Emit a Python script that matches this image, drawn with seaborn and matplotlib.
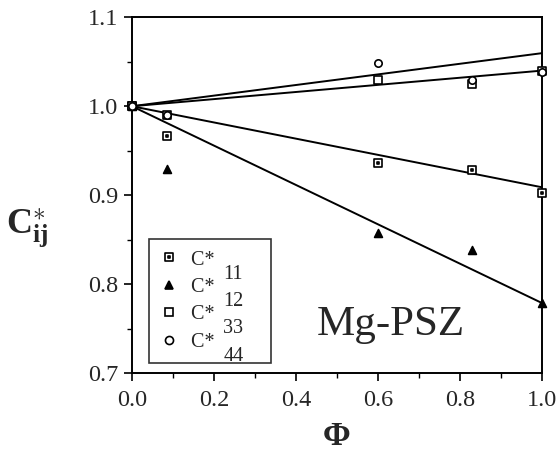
import numpy as np
import pandas as pd
import matplotlib
matplotlib.use("Agg")
import matplotlib.pyplot as plt
from matplotlib.path import Path
from matplotlib.lines import Line2D
from matplotlib import font_manager
import seaborn as sns

# ---- data ----
phi = [0.0, 0.085, 0.60, 0.830, 1.0]
c11 = [1.0, 0.967, 0.936, 0.928, 0.902]
c12 = [1.0, 0.930, 0.857, 0.838, 0.779]
c33 = [1.0, 0.990, 1.029, 1.025, 1.040]
c44 = [1.0, 0.990, 1.049, 1.030, 1.038]
series = ["11", "12", "33", "44"]
fit_phi = [0.0, 1.0]
fit_c11 = [1.0, 0.909]
fit_c12 = [1.0, 0.779]
fit_c33 = [1.0, 1.040]
fit_c44 = [1.0, 1.0596]

sns.set_theme(style="ticks")
names = sorted({f.name for f in font_manager.fontManager.ttflist})
serif = [n for n in ["Liberation Serif", "Times New Roman", "DejaVu Serif"] if n in names]
plt.rcParams['font.family'] = 'serif'
plt.rcParams['font.serif'] = serif
plt.rcParams['mathtext.fontset'] = 'custom'
plt.rcParams['mathtext.rm'] = serif[0]
plt.rcParams['mathtext.it'] = serif[0] + ':italic'
plt.rcParams['mathtext.bf'] = serif[0] + ':bold'

fig = plt.figure(figsize=(5.59, 4.54), dpi=100)
ax = fig.add_axes([0.236, 0.178, 0.733, 0.784])

# fit lines
for fy in [fit_c11, fit_c12, fit_c33, fit_c44]:
    fd = pd.DataFrame({"phi": fit_phi, "c": fy})
    sns.lineplot(data=fd, x="phi", y="c", ax=ax, color="black", lw=1.4)

# dotted square marker
boxdot = Path(
    [(-1, -1), (1, -1), (1, 1), (-1, 1), (-1, -1),
     (-0.25, -0.25), (0.25, -0.25), (0.25, 0.25), (-0.25, 0.25), (-0.25, -0.25)],
    [Path.MOVETO, Path.LINETO, Path.LINETO, Path.LINETO, Path.CLOSEPOLY,
     Path.MOVETO, Path.LINETO, Path.LINETO, Path.LINETO, Path.CLOSEPOLY])

styles = {
    "11": dict(marker=boxdot, s=38, facecolor="white"),
    "12": dict(marker="^", s=32, facecolor="black"),
    "33": dict(marker="s", s=32, facecolor="white"),
    "44": dict(marker="o", s=28, facecolor="white"),
}
vals = {"11": c11, "12": c12, "33": c33, "44": c44}
handles = []
for k in series:
    d = pd.DataFrame({"phi": phi, "c": vals[k]})
    st = styles[k]
    sns.scatterplot(data=d, x="phi", y="c", ax=ax, marker=st["marker"], s=st["s"],
                    facecolor=st["facecolor"], edgecolor="black", linewidth=1.2,
                    zorder=5, legend=False, clip_on=False)
    handles.append(Line2D([], [], ls="none", marker=st["marker"], markersize=5.8,
                          markerfacecolor=st["facecolor"], markeredgecolor="black",
                          markeredgewidth=1.2))

nb = "\u00a0"
labels = ["C*" + nb * 9 for k in series]
leg = ax.legend(handles, labels, loc="upper left", bbox_to_anchor=(0.042, 0.376),
                frameon=True, fancybox=False, edgecolor="black", fontsize=14.5,
                handletextpad=0.65, labelspacing=0.41, borderpad=0.55, handlelength=0.9,
                borderaxespad=0.0)
leg.get_frame().set_linewidth(1.2)
for t, k in zip(leg.get_texts(), series):
    ax.annotate(k, xy=(0, 1), xycoords=t, xytext=(32, -14), textcoords="offset pixels",
                fontsize=14.5, ha="left", va="top", zorder=10)

ax.text(0.632, 0.107, "Mg-PSZ", fontsize=31, ha="center", va="baseline", transform=ax.transAxes)

ax.set_xlim(0, 1.0)
ax.set_ylim(0.7, 1.1)
ax.set_xticks([0, 0.2, 0.4, 0.6, 0.8, 1.0])
ax.set_xticks(np.arange(0, 1.01, 0.1), minor=True)
ax.set_yticks([0.7, 0.8, 0.9, 1.0, 1.1])
ax.set_yticks([0.75, 0.85, 0.95, 1.05], minor=True)
ax.xaxis.set_major_formatter(matplotlib.ticker.FormatStrFormatter("%.1f"))
ax.yaxis.set_major_formatter(matplotlib.ticker.FormatStrFormatter("%.1f"))
ax.tick_params(axis="both", which="major", labelsize=17.5, length=6, width=1.2, color="black")
ax.tick_params(axis="x", which="major", pad=6)
ax.tick_params(axis="y", which="major", pad=4)
ax.tick_params(axis="both", which="minor", length=3.6, width=1.0, color="black")
for sp in ax.spines.values():
    sp.set_visible(True)
    sp.set_color("black")
    sp.set_linewidth(1.4)

ax.set_xlabel("Φ", fontsize=24, fontweight="bold")
ax.xaxis.label.set_va("center")
ax.xaxis.set_label_coords(0.5, -0.178)
ax.set_ylabel(r"$\mathbf{C}^{\ast}_{\mathbf{ij}}$", fontsize=26, rotation=0)
ax.yaxis.label.set_va("center")
ax.yaxis.label.set_ha("center")
ax.yaxis.set_label_coords(-0.255, 0.41)

fig.savefig("out.png", dpi=100)
